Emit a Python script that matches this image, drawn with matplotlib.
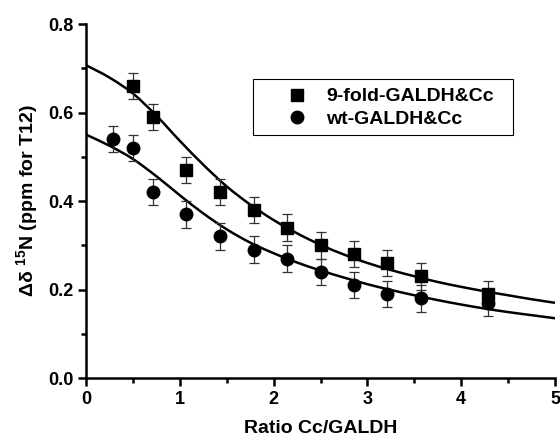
import numpy as np
import matplotlib.pyplot as plt
from matplotlib.path import Path
from matplotlib.patches import PathPatch, Rectangle

plt.rcParams['font.family'] = ['Liberation Sans', 'DejaVu Sans']
plt.rcParams['font.weight'] = 'bold'
plt.rcParams['mathtext.fontset'] = 'custom'
plt.rcParams['mathtext.rm'] = 'Liberation Sans:bold'
plt.rcParams['mathtext.it'] = 'Liberation Sans:bold'
plt.rcParams['mathtext.bf'] = 'Liberation Sans:bold'

# measured data (ratio Cc/GALDH)
x_fold = [0.50, 0.71, 1.07, 1.43, 1.79, 2.14, 2.50, 2.86, 3.21, 3.57, 4.29]
y_fold = [0.66, 0.59, 0.47, 0.42, 0.38, 0.34, 0.30, 0.28, 0.26, 0.23, 0.19]
err_fold = [0.03] * len(x_fold)

x_wt = [0.29, 0.50, 0.71, 1.07, 1.43, 1.79, 2.14, 2.50, 2.86, 3.21, 3.57, 4.29]
y_wt = [0.54, 0.52, 0.42, 0.37, 0.32, 0.29, 0.27, 0.24, 0.21, 0.19, 0.18, 0.17]
err_wt = [0.03] * len(x_wt)

# fitted curves
x_fit = [0.0, 0.25, 0.5, 0.75, 1.0, 1.25, 1.5, 1.75, 2.0, 2.25, 2.5, 2.75,
         3.0, 3.25, 3.5, 3.75, 4.0, 4.25, 4.5, 4.75, 5.0]
fit_fold = [0.707, 0.679, 0.643, 0.593, 0.536, 0.482, 0.433, 0.392, 0.357,
            0.327, 0.301, 0.279, 0.260, 0.244, 0.230, 0.217, 0.206, 0.196,
            0.187, 0.178, 0.170]
fit_wt = [0.550, 0.525, 0.495, 0.456, 0.413, 0.372, 0.336, 0.306, 0.282,
          0.261, 0.243, 0.227, 0.212, 0.199, 0.187, 0.176, 0.166, 0.157,
          0.149, 0.142, 0.135]


def smooth_path(xs, ys):
    # catmull-rom through the read points, as cubic bezier segments
    p = np.column_stack([xs, ys])
    verts = [p[0]]
    codes = [Path.MOVETO]
    n = len(p)
    for i in range(n - 1):
        p0 = p[max(i - 1, 0)]
        p1 = p[i]
        p2 = p[i + 1]
        p3 = p[min(i + 2, n - 1)]
        c1 = p1 + (p2 - p0) / 6.0
        c2 = p2 - (p3 - p1) / 6.0
        verts += [c1, c2, p2]
        codes += [Path.CURVE4] * 3
    return Path(verts, codes)


fig = plt.figure(figsize=(5.6, 4.4), dpi=100)
ax = fig.add_axes([0.1536, 0.1409, 0.8375, 0.8045])

for ys in (fit_fold, fit_wt):
    ax.add_patch(PathPatch(smooth_path(x_fit, ys), facecolor='none',
                           edgecolor='black', lw=1.8, zorder=2))

ax.errorbar(x_fold, y_fold, yerr=err_fold, fmt='none', ecolor='#333333',
            elinewidth=0.9, capsize=3.5, capthick=0.9, zorder=3)
ax.errorbar(x_wt, y_wt, yerr=err_wt, fmt='none', ecolor='#333333',
            elinewidth=0.9, capsize=3.5, capthick=0.9, zorder=3)
ax.plot(x_fold, y_fold, 's', color='black', ms=8, ls='none',
        label='9-fold-GALDH&Cc', zorder=4)
ax.plot(x_wt, y_wt, 'o', color='black', ms=9, ls='none',
        label='wt-GALDH&Cc', zorder=4)

ax.set_xlim(0, 5)
ax.set_ylim(0, 0.8)
ax.set_xticks([0, 1, 2, 3, 4, 5])
ax.set_xticks(np.arange(0.5, 5, 1.0), minor=True)
ax.set_yticks([0.0, 0.2, 0.4, 0.6, 0.8])
ax.set_yticks([0.1, 0.3, 0.5, 0.7], minor=True)
ax.set_yticklabels(['0.0', '0.2', '0.4', '0.6', '0.8'])

for s in ['top', 'right']:
    ax.spines[s].set_visible(False)
for s in ['left', 'bottom']:
    ax.spines[s].set_linewidth(1.8)
ax.tick_params(which='major', direction='out', length=5.5, width=1.8,
               labelsize=13, pad=3.5)
ax.tick_params(which='minor', direction='out', length=3.5, width=1.8)

ax.set_xlabel('Ratio Cc/GALDH', fontsize=14, fontweight='bold', labelpad=9)
ax.set_ylabel(r'$\Delta\delta\ ^{15}$N (ppm for T12)', fontsize=14,
              fontweight='bold', labelpad=6)

# legend box drawn by hand so the left padding matches
ax.add_patch(Rectangle((0.356, 0.686), 0.554, 0.159, transform=ax.transAxes,
                       facecolor='white', edgecolor='black', lw=0.8,
                       zorder=5))
leg = ax.legend(loc='center left', bbox_to_anchor=(0.429, 0.763),
                fontsize=14, frameon=False, handlelength=1.0,
                handletextpad=1.0, borderpad=0, labelspacing=0.25,
                borderaxespad=0)
leg.set_zorder(6)

fig.savefig('out.png', dpi=100)
